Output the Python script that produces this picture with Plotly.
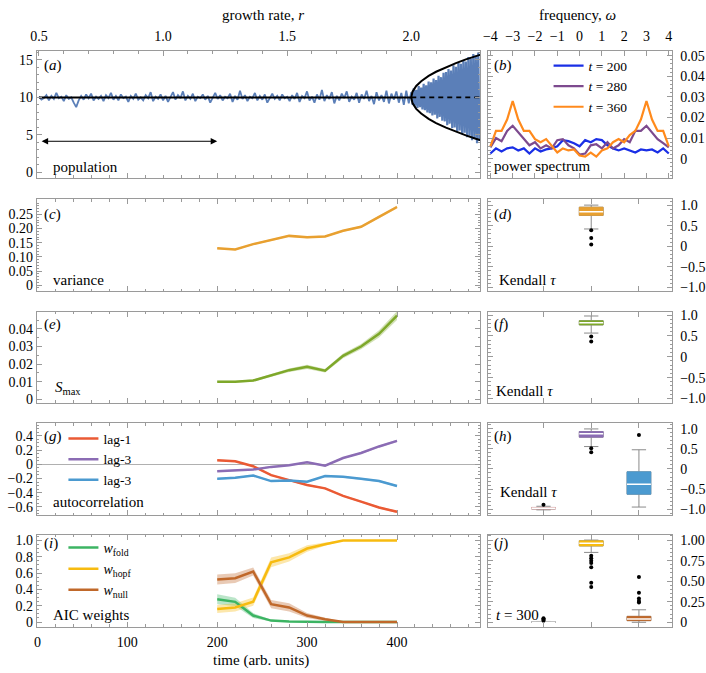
import plotly.graph_objects as go

W, H = 706, 673
FONT = "Liberation Serif, Tinos, Times New Roman, DejaVu Serif, serif"
FRAME = "#9a9a9a"

# ------------------------------------------------------------------ data
# (a) population vs growth rate r
r_pre = [round(0.50 + 0.01 * i, 3) for i in range(151)]
pop_pre = [
    10.1, 9.7, 9.9, 10.3, 9.6, 10.2, 9.8, 10.6, 9.9, 10.1,
    9.5, 10.3, 9.8, 10.0, 9.3, 8.7, 9.6, 10.2, 9.7, 10.4,
    9.9, 10.5, 9.6, 10.1, 9.8, 10.2, 9.5, 10.3, 9.9, 10.6,
    9.7, 10.2, 9.6, 10.4, 9.9, 10.1, 9.4, 10.2, 9.8, 10.5,
    9.7, 10.0, 9.6, 10.3, 9.9, 10.7, 9.5, 10.1, 9.8, 10.4,
    9.6, 10.2, 9.4, 10.0, 10.7, 9.7, 10.3, 9.9, 10.8, 9.6,
    10.2, 9.8, 10.5, 9.5, 10.1, 9.9, 10.4, 9.7, 10.2, 9.3,
    10.0, 10.6, 9.8, 10.3, 9.6, 10.1, 9.9, 10.5, 9.4, 10.2,
    9.7, 10.9, 9.8, 10.3, 9.5, 10.1, 9.9, 10.6, 9.6, 10.2,
    9.7, 10.4, 9.3, 10.0, 10.5, 9.8, 10.2, 9.6, 10.4, 9.9,
    10.1, 9.5, 10.3, 9.8, 10.6, 9.4, 10.2, 9.9, 10.8, 9.6,
    10.1, 9.3, 10.4, 9.7, 11.0, 9.5, 10.3, 9.8, 10.7, 9.2,
    10.2, 9.6, 10.5, 9.9, 10.8, 9.4, 10.1, 9.7, 10.6, 9.3,
    10.4, 9.8, 10.9, 9.5, 10.2, 9.1, 10.7, 9.6, 10.3, 9.4,
    10.9, 9.2, 10.5, 9.7, 10.8, 9.3, 10.6, 9.0, 10.9, 9.2,
    10.7,
]
r_post = [round(2.005 + 0.005 * i, 3) for i in range(55)]
pop_post = [
    9.0, 11.2, 8.9, 11.0, 8.6, 11.5, 8.7, 11.3, 8.4, 11.8,
    8.3, 11.6, 8.0, 12.1, 7.9, 12.0, 7.6, 12.5, 7.7, 12.3,
    7.2, 12.9, 7.4, 12.7, 6.9, 13.3, 6.8, 13.4, 6.3, 13.8,
    6.5, 13.6, 5.9, 14.3, 6.0, 14.1, 5.5, 14.7, 5.6, 14.5,
    5.1, 15.0, 5.3, 14.8, 4.7, 15.4, 4.9, 15.2, 4.3, 15.8,
    4.5, 15.6, 3.9, 16.0, 4.2,
]
stable_r = [0.5, 2.0]
stable_pop = [10.0, 10.0]
unstable_r = [2.0, 2.28]
unstable_pop = [10.0, 10.0]
branch_r = [2.28, 2.26, 2.22, 2.18, 2.14, 2.10, 2.07, 2.04, 2.02, 2.005, 2.0,
            2.005, 2.02, 2.04, 2.07, 2.10, 2.14, 2.18, 2.22, 2.26, 2.28]
branch_pop = [15.71, 15.51, 15.07, 14.58, 14.04, 13.42, 12.86, 12.16, 11.53, 10.76, 10.0,
              9.24, 8.47, 7.84, 7.14, 6.58, 5.96, 5.42, 4.93, 4.49, 4.29]
window_time = [3, 200]
window_level = 4.15

# (b) power spectra
omega = [-4 + 0.25 * k for k in range(33)]
spec_200 = [0.0025, 0.005, 0.0035, 0.005, 0.0055, 0.004, 0.005, 0.0025, 0.005, 0.0035,
            0.0045, 0.005, 0.006, 0.009, 0.0085, 0.0075, 0.006, 0.009, 0.008, 0.0095,
            0.009, 0.0065, 0.005, 0.004, 0.005, 0.004, 0.003, 0.0045, 0.004, 0.0045,
            0.003, 0.005, 0.0025]
spec_280 = [0.0055, 0.010, 0.0085, 0.0135, 0.016, 0.013, 0.0095, 0.0065, 0.008, 0.005,
            0.0065, 0.005, 0.009, 0.0095, 0.0065, 0.005, 0.002, 0.0025, 0.0065, 0.007,
            0.005, 0.008, 0.005, 0.0065, 0.0095, 0.008, 0.0135, 0.0135, 0.016, 0.0125,
            0.0095, 0.0075, 0.0055]
spec_360 = [0.006, 0.0135, 0.0135, 0.019, 0.028, 0.019, 0.0135, 0.0135, 0.0095, 0.008,
            0.0095, 0.006, 0.003, 0.005, 0.004, 0.0045, 0.0015, 0.001, 0.003, 0.001,
            0.004, 0.005, 0.008, 0.0095, 0.008, 0.0115, 0.0135, 0.019, 0.028, 0.019,
            0.0135, 0.0135, 0.006]

# (c)-(j) early-warning indicators
time = [200, 220, 240, 260, 280, 300, 320, 340, 360, 380, 400]
variance = [0.130, 0.126, 0.145, 0.159, 0.174, 0.169, 0.172, 0.192, 0.206, 0.241, 0.276]
variance_err = [0.003, 0.003, 0.003, 0.003, 0.003, 0.003, 0.003, 0.003, 0.004, 0.004, 0.005]
smax = [0.0101, 0.0101, 0.0107, 0.0138, 0.0166, 0.0185, 0.0163, 0.0247, 0.0300, 0.0372, 0.0475]
smax_err = [0.0005, 0.0005, 0.0006, 0.0008, 0.0010, 0.0012, 0.0010, 0.0013, 0.0015, 0.0020, 0.0025]
ac_lag1 = [0.056, 0.042, -0.028, -0.153, -0.223, -0.293, -0.340, -0.446, -0.526, -0.609, -0.670]
ac_lag2 = [-0.098, -0.084, -0.074, -0.037, -0.014, 0.028, -0.019, 0.088, 0.158, 0.251, 0.330]
ac_lag3 = [-0.205, -0.190, -0.158, -0.237, -0.228, -0.247, -0.167, -0.177, -0.205, -0.237, -0.307]
ac_err = [0.012, 0.012, 0.012, 0.012, 0.012, 0.012, 0.012, 0.012, 0.013, 0.014, 0.015]
w_fold = [0.280, 0.248, 0.080, 0.018, 0.006, 0.0, 0.0, 0.0, 0.0, 0.0, 0.0]
w_fold_err = [0.06, 0.05, 0.03, 0.012, 0.006, 0.003, 0.002, 0.0, 0.0, 0.0, 0.0]
w_hopf = [0.160, 0.180, 0.250, 0.733, 0.793, 0.902, 0.955, 1.0, 1.0, 1.0, 1.0]
w_hopf_err = [0.05, 0.05, 0.05, 0.06, 0.05, 0.04, 0.02, 0.004, 0.003, 0.003, 0.003]
w_null = [0.522, 0.538, 0.620, 0.220, 0.180, 0.080, 0.034, 0.0, 0.0, 0.0, 0.0]
w_null_err = [0.06, 0.06, 0.05, 0.05, 0.05, 0.03, 0.02, 0.005, 0.0, 0.0, 0.0]

# Kendall tau / weight distributions (box statistics)
box_var = dict(pos=2, q1=0.75, med=0.84, q3=0.95, lo=0.42, hi=1.0, out=[0.39, 0.20, 0.04])
box_smax = dict(pos=2, q1=0.765, med=0.82, q3=0.867, lo=0.57, hi=0.98, out=[0.49, 0.37])
box_lag1 = dict(pos=1, q1=-1.0, med=-0.98, q3=-0.96, lo=-1.02, hi=-0.93, out=[-0.89])
box_lag2 = dict(pos=2, q1=0.794, med=0.877, q3=0.934, lo=0.56, hi=1.0, out=[0.52, 0.42])
box_lag3 = dict(pos=3, q1=-0.63, med=-0.38, q3=-0.07, lo=-0.95, hi=0.48, out=[0.85])
box_fold = dict(pos=1, q1=0.0, med=0.0, q3=0.006, lo=0.0, hi=0.01, out=[0.02, 0.03, 0.04, 0.05])
box_hopf = dict(pos=2, q1=0.928, med=0.96, q3=0.992, lo=0.85, hi=1.0,
                out=[0.81, 0.78, 0.75, 0.72, 0.67, 0.48, 0.43])
box_null = dict(pos=3, q1=0.02, med=0.04, q3=0.072, lo=0.0, hi=0.152,
                out=[0.24, 0.26, 0.29, 0.36, 0.55])

# colours
C_POP = "#5b7fb8"
C_S200, C_S280, C_S360 = "#1a2fe6", "#7d4a8e", "#ff8a1c"
C_VAR = "#e8a030"
C_SMAX = "#7ea82a"
C_L1, C_L2, C_L3 = "#ea5a34", "#8b6cb4", "#4b9ad0"
C_FOLD, C_HOPF, C_NULL = "#3cb463", "#f7bb10", "#c0682a"

# ------------------------------------------------------------------ helpers
def rgba(hexc, a):
    h = hexc.lstrip("#")
    return "rgba(%d,%d,%d,%s)" % (int(h[0:2], 16), int(h[2:4], 16), int(h[4:6], 16), a)

def px(x):
    return x / W

def py(y):
    return 1 - y / H

fig = go.Figure()

def band(xs, ys, err, color, xa, ya):
    up = [v + e for v, e in zip(ys, err)]
    lo = [v - e for v, e in zip(ys, err)]
    fig.add_trace(go.Scatter(x=xs + xs[::-1], y=up + lo[::-1], fill="toself",
                             fillcolor=rgba(color, 0.35), line=dict(width=0),
                             hoverinfo="skip", showlegend=False, xaxis=xa, yaxis=ya))

def line(xs, ys, color, xa, ya, width=2.5, name=None, legend=None, dash=None):
    fig.add_trace(go.Scatter(x=xs, y=ys, mode="lines",
                             line=dict(color=color, width=width, dash=dash),
                             name=name, showlegend=name is not None,
                             legend=legend, xaxis=xa, yaxis=ya))

BOXW = 0.5

def boxplot(b, color, xa, ya):
    # whiskers (grey) from the box statistics
    fig.add_trace(go.Box(x=[b["pos"]], q1=[b["q1"]], median=[b["med"]], q3=[b["q3"]],
                         lowerfence=[b["lo"]], upperfence=[b["hi"]], orientation="v",
                         fillcolor=color, line=dict(color="#8a8a8a", width=1),
                         width=BOXW, whiskerwidth=0.6, boxpoints=False,
                         showlegend=False, xaxis=xa, yaxis=ya))
    # solid coloured body, drawn over the grey outline
    xl, xr = b["pos"] - BOXW / 2, b["pos"] + BOXW / 2
    fig.add_trace(go.Scatter(x=[xl, xr, xr, xl, xl], y=[b["q1"], b["q1"], b["q3"], b["q3"], b["q1"]],
                             mode="lines", fill="toself", fillcolor=color,
                             line=dict(width=0.6, color=color), showlegend=False,
                             hoverinfo="skip", xaxis=xa, yaxis=ya))
    # white median
    fig.add_trace(go.Scatter(x=[xl, xr], y=[b["med"], b["med"]],
                             mode="lines", line=dict(color="white", width=1.5),
                             showlegend=False, xaxis=xa, yaxis=ya))
    fig.add_trace(go.Scatter(x=[b["pos"]] * len(b["out"]), y=b["out"], mode="markers",
                             marker=dict(color="black", size=4), showlegend=False,
                             xaxis=xa, yaxis=ya))

# ------------------------------------------------------------------ traces
# (a)
line(r_pre, pop_pre, C_POP, "x2", "y", width=1.8)
line(r_post, pop_post, C_POP, "x2", "y", width=2.2)
line(stable_r, stable_pop, "black", "x2", "y", width=2)
line(unstable_r, unstable_pop, "black", "x2", "y", width=1.6, dash="5px,4px")
line(branch_r, branch_pop, "black", "x2", "y", width=2)

# (b)
line(omega, spec_200, C_S200, "x7", "y7", width=2.2, name="<i>t</i> = 200", legend="legend")
line(omega, spec_280, C_S280, "x7", "y7", width=2.2, name="<i>t</i> = 280", legend="legend")
line(omega, spec_360, C_S360, "x7", "y7", width=2.2, name="<i>t</i> = 360", legend="legend")

# (c)
band(time, variance, variance_err, C_VAR, "x3", "y3")
line(time, variance, C_VAR, "x3", "y3")
# (e)
band(time, smax, smax_err, C_SMAX, "x4", "y4")
line(time, smax, C_SMAX, "x4", "y4")
# (g)
for ys, c in [(ac_lag1, C_L1), (ac_lag2, C_L2), (ac_lag3, C_L3)]:
    band(time, ys, ac_err, c, "x5", "y5")
line(time, ac_lag1, C_L1, "x5", "y5", name="lag-1", legend="legend2")
line(time, ac_lag2, C_L2, "x5", "y5", name="lag-3", legend="legend2")
line(time, ac_lag3, C_L3, "x5", "y5", name="lag-3", legend="legend2")
# (i)
for ys, e, c in [(w_fold, w_fold_err, C_FOLD), (w_hopf, w_hopf_err, C_HOPF), (w_null, w_null_err, C_NULL)]:
    band(time, ys, e, c, "x6", "y6")
line(time, w_fold, C_FOLD, "x6", "y6", name="<i>w</i><sub>fold</sub>", legend="legend3")
line(time, w_hopf, C_HOPF, "x6", "y6", name="<i>w</i><sub>hopf</sub>", legend="legend3")
line(time, w_null, C_NULL, "x6", "y6", name="<i>w</i><sub>null</sub>", legend="legend3")

# (d), (f), (h), (j)
boxplot(box_var, C_VAR, "x8", "y8")
boxplot(box_smax, C_SMAX, "x9", "y9")
boxplot(box_lag1, "#e9a0a0", "x10", "y10")
boxplot(box_lag2, C_L2, "x10", "y10")
boxplot(box_lag3, C_L3, "x10", "y10")
boxplot(box_fold, "#555555", "x11", "y11")
boxplot(box_hopf, C_HOPF, "x11", "y11")
boxplot(box_null, C_NULL, "x11", "y11")

# ------------------------------------------------------------------ axes
TF = dict(family=FONT, size=14, color="black")

def ax(**kw):
    d = dict(showline=True, linecolor=FRAME, linewidth=1, ticks="inside", tickcolor=FRAME,
             ticklen=5, tickwidth=1, showgrid=False, zeroline=False, tickfont=TF,
             mirror="ticks")
    d.update(kw)
    return d

def minor(dt):
    return dict(ticks="inside", dtick=dt, ticklen=2.5, tickcolor=FRAME, showgrid=False)

LX = [px(31), px(479)]
RX = [px(487), px(673)]
ROWS = {"a": (48, 176), "c": (198, 291), "e": (312, 404), "g": (425, 518), "i": (538, 631)}

def dom(k):
    t, b = ROWS[k]
    return [py(b), py(t)]

T_RANGE = [-0.8, 492.6]
time_ticks = [0, 100, 200, 300, 400]
box_ticks = [1, 2, 3]
BOX_RANGE = [-0.16, 3.7]
M = "\u2212"

lay = {}
lay["xaxis"] = ax(domain=LX, anchor="y", range=T_RANGE, tickvals=time_ticks,
                  showticklabels=False, minor=minor(20), mirror=True)
lay["xaxis2"] = ax(overlaying="x", side="top", anchor="y", range=[0.4908, 2.278],
                   tickvals=[0.5, 1.0, 1.5, 2.0], ticktext=["0.5", "1.0", "1.5", "2.0"],
                   minor=minor(0.1), mirror=False, ticklabelstandoff=4)
lay["yaxis"] = ax(domain=dom("a"), anchor="x", range=[-0.7, 16.14], tickvals=[0, 5, 10, 15],
                  minor=minor(1))

for n, k, yr, tv, tt, md in [
    (3, "c", [-0.021, 0.303], [0, 0.05, 0.10, 0.15, 0.20, 0.25],
     ["0", "0.05", "0.10", "0.15", "0.20", "0.25"], 0.01),
    (4, "e", [-0.0018, 0.0497], [0, 0.01, 0.02, 0.03, 0.04],
     ["0", "0.01", "0.02", "0.03", "0.04"], 0.005),
    (5, "g", [-0.716, 0.577], [-0.6, -0.4, -0.2, 0, 0.2, 0.4],
     [M + "0.6", M + "0.4", M + "0.2", "0", "0.2", "0.4"], 0.05),
    (6, "i", [-0.055, 1.07], [0, 0.2, 0.4, 0.6, 0.8, 1.0],
     ["0", "0.2", "0.4", "0.6", "0.8", "1.0"], 0.05),
]:
    lay["xaxis%d" % n] = ax(domain=LX, anchor="y%d" % n, range=T_RANGE, tickvals=time_ticks,
                            showticklabels=(n == 6), minor=minor(20), ticklabelstandoff=3)
    yk = dict(domain=dom(k), anchor="x%d" % n, range=yr, tickvals=tv, ticktext=tt, minor=minor(md))
    if n == 5:
        yk.update(zeroline=True, zerolinecolor="#b0b0b0", zerolinewidth=1)
    lay["yaxis%d" % n] = ax(**yk)

lay["xaxis7"] = ax(domain=RX, anchor="y7", range=[-4.1, 4.16], side="top",
                   tickvals=[-4, -3, -2, -1, 0, 1, 2, 3, 4],
                   ticktext=[M + "4", M + "3", M + "2", M + "1", "0", "1", "2", "3", "4"],
                   ticklabelstandoff=4)
lay["yaxis7"] = ax(domain=dom("a"), anchor="x7", side="right", range=[-0.0092, 0.0521],
                   tickvals=[0, 0.01, 0.02, 0.03, 0.04, 0.05],
                   ticktext=["0", "0.01", "0.02", "0.03", "0.04", "0.05"], minor=minor(0.002),
                   ticklabelstandoff=4)

kt = [-1.0, -0.5, 0, 0.5, 1.0]
ktt = [M + "1.0", M + "0.5", "0", "0.5", "1.0"]
for n, k, yr, tv, tt in [
    (8, "c", [-1.09, 1.14], kt, ktt),
    (9, "e", [-1.10, 1.08], kt, ktt),
    (10, "g", [-1.15, 1.14], kt, ktt),
    (11, "i", [-0.052, 1.064], [0, 0.25, 0.5, 0.75, 1.0], ["0", "0.25", "0.50", "0.75", "1.00"]),
]:
    lay["xaxis%d" % n] = ax(domain=RX, anchor="y%d" % n, range=BOX_RANGE, tickvals=box_ticks,
                            showticklabels=False)
    lay["yaxis%d" % n] = ax(domain=dom(k), anchor="x%d" % n, side="right", range=yr,
                            tickvals=tv, ticktext=tt, minor=minor(0.1 if n != 11 else 0.05),
                            ticklabelstandoff=4)

# ------------------------------------------------------------------ annotations
def text(x, y, s, xanchor="left", size=15):
    return dict(x=px(x), y=py(y), xref="paper", yref="paper", text=s, showarrow=False,
                xanchor=xanchor, yanchor="middle", font=dict(family=FONT, size=size, color="black"))

annotations = [
    text(260, 11, "growth rate, <i>r</i>", "center", 15),
    text(577, 11, "frequency, <i>\u03c9</i>", "center", 15),
    text(258, 665, "time (arb. units)", "center", 15),
    text(36, 62, "(<i>a</i>)"), text(491, 62, "(<i>b</i>)"),
    text(36, 213, "(<i>c</i>)"), text(491, 213, "(<i>d</i>)"),
    text(36, 325, "(<i>e</i>)"), text(491, 325, "(<i>f</i>)"),
    text(36, 438, "(<i>g</i>)"), text(491, 438, "(<i>h</i>)"),
    text(36, 547, "(<i>i</i>)"), text(491, 547, "(<i>j</i>)"),
    text(45, 165, "population"),
    text(491, 164, "power spectrum"),
    text(45, 280, "variance"),
    text(496, 280, "Kendall <i>\u03c4</i>"),
    text(47, 389, "<i>S</i><sub>max</sub>"),
    text(493, 392, "Kendall <i>\u03c4</i>"),
    text(45, 505, "autocorrelation"),
    text(497, 495, "Kendall <i>\u03c4</i>"),
    text(45, 619, "AIC weights"),
    text(493, 619, "<i>t</i> = 300"),
    dict(x=window_time[1], y=window_level, ax=window_time[0], ay=window_level,
         xref="x", yref="y", axref="x", ayref="y", text="", showarrow=True,
         arrowhead=2, arrowside="end+start", arrowwidth=1, arrowsize=1.3, arrowcolor="black"),
]

def leg(x, y, size=14):
    return dict(x=px(x), y=py(y), xref="paper", yref="paper", xanchor="left", yanchor="top",
                bgcolor="rgba(0,0,0,0)", borderwidth=0,
                font=dict(family=FONT, size=size, color="black"), tracegroupgap=0,
                itemwidth=30)

fig.update_layout(
    width=W, height=H, margin=dict(l=0, r=0, t=0, b=0),
    paper_bgcolor="white", plot_bgcolor="white",
    font=dict(family=FONT, size=14, color="black"),
    annotations=annotations,
    legend=leg(548, 47, 13.5), legend2=leg(58, 425, 13.5), legend3=leg(58, 535, 14),
    **lay,
)

fig.write_html("out.html", config={"displayModeBar": False},
               post_script="document.body.style.margin='0';")
